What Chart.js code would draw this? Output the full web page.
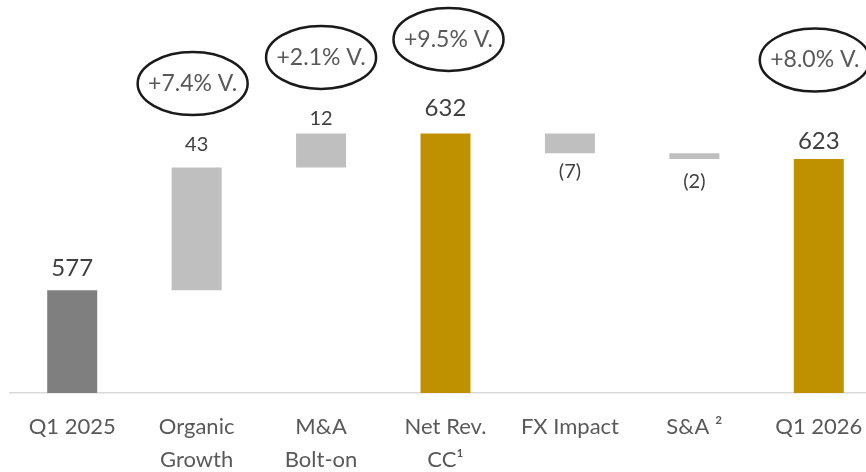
<!DOCTYPE html>
<html>
<head>
<meta charset="utf-8">
<script src="https://cdn.jsdelivr.net/npm/chart.js@4.4.1/dist/chart.umd.min.js"></script>
<style>
  html, body { margin: 0; padding: 0; background: #fff; overflow: hidden; }
  #wrap { position: relative; width: 882px; height: 472px; }
</style>
</head>
<body>
<div id="wrap"><canvas id="myChart" width="882" height="472"></canvas></div>
<script>
const CATEGORIES = ['Q1 2025', ['Organic', 'Growth'], ['M&A', 'Bolt-on'], ['Net Rev.', 'CC¹'], 'FX Impact', 'S&A ²', 'Q1 2026'];
const VALUES = [577, 43, 12, 632, -7, -2, 623];
const KINDS = ['start', 'delta', 'delta', 'total', 'delta', 'delta', 'total'];
const VARIANCE = [null, '+7.4% V.', '+2.1% V.', '+9.5% V.', null, null, '+8.0% V.'];
const Y_MIN = 541;
const Y_MAX = 677;

// label / oval placement (pixels), per category
const LABEL_GAP = [22, 23, 15, 25, 18, 22, 18];
const OVAL_LIFT = [0, 84, 76, 94, 0, 0, 99];
const OVAL_SHIFT = [0, -4, 0, 3, 0, 0, -4];

const COLORS = { start: '#7f7f7f', delta: '#bfbfbf', total: '#bf9000' };

let running = 0;
const barData = VALUES.map(function (v, i) {
    if (KINDS[i] === 'delta') {
        const from = running;
        running += v;
        return [from, running];
    }
    running = v;
    return v;
});

const annotate = {
    id: 'annotate',
    afterDatasetsDraw(chart) {
        const ctx = chart.ctx;
        const bars = chart.getDatasetMeta(0).data;
        ctx.save();
        ctx.textAlign = 'center';
        ctx.textBaseline = 'middle';
        bars.forEach(function (bar, i) {
            const v = VALUES[i];
            const top = Math.min(bar.y, bar.base);
            const bottom = Math.max(bar.y, bar.base);
            const big = KINDS[i] !== 'delta';
            ctx.font = (big ? '24px' : '20px') + ' Lato';
            ctx.fillStyle = '#404040';
            const text = v < 0 ? '(' + Math.abs(v) + ')' : String(v);
            const y = v < 0 ? bottom + LABEL_GAP[i] : top - LABEL_GAP[i];
            ctx.fillText(text, bar.x, y);

            if (VARIANCE[i]) {
                const cx = bar.x + OVAL_SHIFT[i];
                const cy = top - OVAL_LIFT[i];
                ctx.beginPath();
                ctx.ellipse(cx, cy, 55, 31.5, 0, 0, Math.PI * 2);
                ctx.lineWidth = 2.5;
                ctx.strokeStyle = '#1a1a1a';
                ctx.stroke();
                ctx.font = '23px Lato';
                ctx.fillStyle = '#595959';
                ctx.fillText(VARIANCE[i], cx, cy);
            }
        });
        ctx.restore();
    }
};

function draw() {
    const ctx = document.getElementById('myChart').getContext('2d');
    new Chart(ctx, {
        type: 'bar',
        data: {
            labels: CATEGORIES,
            datasets: [{
                data: barData,
                backgroundColor: KINDS.map(function (k) { return COLORS[k]; }),
                barPercentage: 1,
                categoryPercentage: 0.402
            }]
        },
        options: {
            responsive: false,
            devicePixelRatio: 1,
            animation: false,
            layout: { padding: { left: 10, right: 1, top: 5, bottom: 0 } },
            plugins: {
                legend: { display: false },
                tooltip: { enabled: false }
            },
            scales: {
                x: {
                    grid: { display: false, drawTicks: false },
                    border: { display: true, color: '#d9d9d9', width: 1.5 },
                    ticks: {
                        color: '#595959',
                        font: { family: 'Lato', size: 22, lineHeight: 1.5 },
                        padding: 17,
                        maxRotation: 0,
                        autoSkip: false
                    },
                    afterFit: function (scale) { scale.height = 79; }
                },
                y: {
                    display: false,
                    min: Y_MIN,
                    max: Y_MAX
                }
            }
        },
        plugins: [annotate]
    });
}

document.fonts.load('22px Lato').then(draw, draw);
</script>
</body>
</html>
